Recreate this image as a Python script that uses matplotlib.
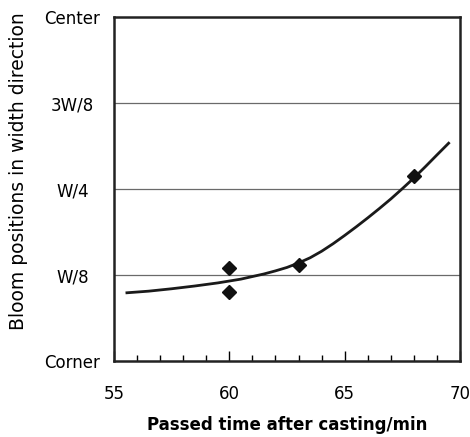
import matplotlib
matplotlib.use("Agg")
import matplotlib.pyplot as plt
from matplotlib.ticker import MultipleLocator

plt.rcParams['font.family'] = ['DejaVu Sans']

# measured points
pts_x = [60, 60, 63, 68]
pts_y = [0.1356, 0.1003, 0.140, 0.2693]

# fitted curve
curve_x = [55.5, 56.5, 57.5, 58.5, 59.5, 60.5, 61.5, 62.0, 62.5, 63.0, 63.5, 64.0,
           64.5, 65.0, 65.5, 66.0, 66.5, 67.0, 67.5, 68.0, 68.5, 69.0, 69.55]
curve_y = [0.0990, 0.1015, 0.1050, 0.1090, 0.1135, 0.1190, 0.1265, 0.1310, 0.1360,
           0.1425, 0.1500, 0.1595, 0.1705, 0.1825, 0.1950, 0.2080, 0.2215, 0.2355,
           0.2505, 0.2660, 0.2825, 0.2995, 0.3180]

ytick_vals = [0, 0.125, 0.25, 0.375, 0.5]
ytick_labels = ["Corner", "W/8", "W/4", "3W/8", "Center"]
xtick_vals = [55, 60, 65, 70]

fig = plt.figure(figsize=(4.70, 4.37), dpi=100)
ax = fig.add_axes([114/470, 1-361/437, 346/470, 344/437])

for yv in ytick_vals[1:-1]:
    ax.axhline(yv, color='#6a6a6a', lw=0.9, zorder=1)

ax.plot(curve_x, curve_y, color='#1a1a1a', lw=2.0, zorder=3,
        solid_capstyle='butt', solid_joinstyle='round')
ax.plot(pts_x, pts_y, linestyle='none', marker='D', markersize=7, color='#111111', zorder=4)

ax.set_xlim(55, 70)
ax.set_ylim(0, 0.5)
ax.set_xticks(xtick_vals)
ax.xaxis.set_minor_locator(MultipleLocator(1))
ax.set_yticks(ytick_vals)
ax.set_yticklabels(ytick_labels)
ax.tick_params(axis='x', which='major', direction='in', length=7, width=1, labelsize=12, pad=17)
ax.tick_params(axis='x', which='minor', direction='in', length=4, width=1)
ax.tick_params(axis='y', which='both', length=0, labelsize=12, pad=30)
for lab in ax.get_yticklabels():
    lab.set_horizontalalignment('center')
for s in ax.spines.values():
    s.set_linewidth(1.8)
    s.set_color('#222222')

ax.set_xlabel("Passed time after casting/min", fontsize=12, fontweight='bold')
ax.xaxis.set_label_coords(0.5, -(425 - 361) / 344)
ax.xaxis.label.set_verticalalignment('center')
ax.set_ylabel("Bloom positions in width direction", fontsize=13.5)
ax.yaxis.set_label_coords(-(114 - 18) / 346, (361 - 171) / 344)
ax.yaxis.label.set_verticalalignment('center')

fig.savefig("out.png", dpi=100)
